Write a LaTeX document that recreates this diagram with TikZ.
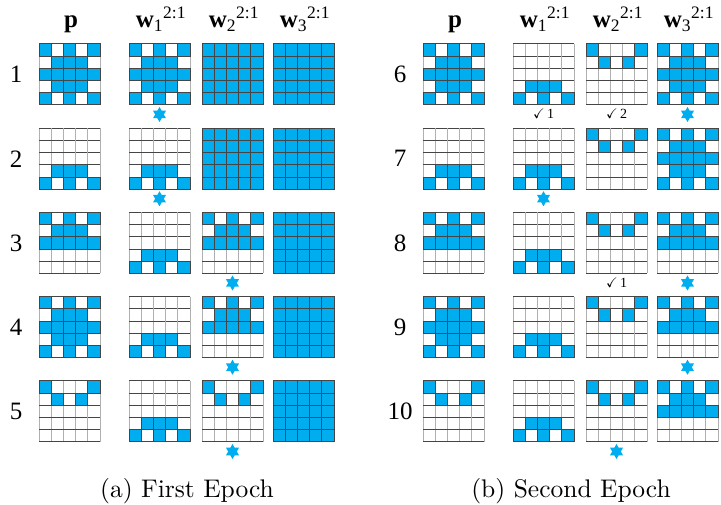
\documentclass[tikz,border=0pt]{standalone}
\usepackage{amssymb}
\usepackage{fontspec}
\newfontfamily\timesf{Liberation Serif}
\newfontfamily\capf{lmroman10-regular}[Extension=.otf]
\usetikzlibrary{positioning,shapes.geometric}

\definecolor{cellblue}{HTML}{00AEEF}
\definecolor{darkline}{HTML}{454545}
\definecolor{lightline}{HTML}{B0B0B0}

\def\cw{12.2pt}
% filled cells as col/row, counted from the top left corner
\def\patA{0/0,2/0,4/0,1/1,2/1,3/1,0/2,1/2,2/2,3/2,4/2,1/3,2/3,3/3,0/4,2/4,4/4}
\def\patB{1/3,2/3,3/3,0/4,2/4,4/4}
\def\patC{0/0,2/0,4/0,1/1,2/1,3/1,0/2,1/2,2/2,3/2,4/2}
\def\patD{0/0,4/0,1/1,3/1}
\def\patF{0/0,1/0,2/0,3/0,4/0,0/1,1/1,2/1,3/1,4/1,0/2,1/2,2/2,3/2,4/2,0/3,1/3,2/3,3/3,4/3,0/4,1/4,2/4,3/4,4/4}

\newcommand{\cellgrid}[2]{%
  \foreach \k in {0,...,5}{
    \draw[vline] ([xshift=\k*\cw]#1.north west) -- ([xshift=\k*\cw]#1.south west);
    \draw[hline] ([yshift=-\k*\cw]#1.north west) -- ([yshift=-\k*\cw]#1.north east);
  }
  \edef\curcells{\csname pat#2\endcsname}%
  \foreach \cc/\rr in \curcells{
    \draw[bluecell] ([xshift=\cc*\cw, yshift=-\rr*\cw]#1.north west) rectangle ++(\cw,-\cw);
  }
}

\begin{document}
\begin{tikzpicture}[
          x=1pt, y=1pt,
          gridbox/.style={minimum width=61pt, minimum height=61pt, inner sep=0pt, outer sep=0pt},
          vline/.style={lightline, line width=1pt},
          hline/.style={darkline, line width=1pt},
          bluecell/.style={fill=cellblue, draw=darkline, line width=1pt},
          rownum/.style={font={\timesf\fontsize{25}{30}\selectfont}},
          head/.style={anchor=base, font={\timesf\fontsize{25}{30}\selectfont}},
          hexstar/.style={star, star points=6, star point ratio=1.732, fill=cellblue, minimum size=15pt, inner sep=0pt, outer sep=0pt},
          chk/.style={inner sep=0pt, font={\timesf\fontsize{14}{16}\selectfont}},
          captext/.style={anchor=base, font={\capf\fontsize{25.5}{30}\selectfont}}
      ]
        \useasboundingbox (0,0) rectangle (721,504);
        % column heads
        \foreach \ox/\s in {0/a,384/b}{
          \node[head] (hp-\s) at (\ox+71,476) {\textbf{p}};
          \node[head] (hw1-\s) at (\ox+161,476) {\textbf{w}\textsubscript{1}\textsuperscript{2:1}};
          \node[head] (hw2-\s) at (\ox+234,476) {\textbf{w}\textsubscript{2}\textsuperscript{2:1}};
          \node[head] (hw3-\s) at (\ox+305,476) {\textbf{w}\textsubscript{3}\textsuperscript{2:1}};
        }
        % rows: number / p / w1 / w2 / w3 / x offset / row index
        \foreach \n/\pa/\pb/\pc/\pd/\ox/\i in {1/A/A/F/F/0/0, 2/B/B/F/F/0/1, 3/C/B/C/F/0/2, 4/A/B/C/F/0/3, 5/D/B/D/F/0/4,
            6/A/B/D/A/384/0, 7/B/B/D/A/384/1, 8/C/B/D/C/384/2, 9/A/B/D/C/384/3, 10/D/B/D/C/384/4}{
          \node[rownum] (num\n) at (\ox+16,429.5-84.25*\i) {\n};
          \node[gridbox] (g\n-0) at (\ox+69.5,429.5-84.25*\i) {};
          \node[gridbox] (g\n-1) at (\ox+159.5,429.5-84.25*\i) {};
          \node[gridbox] (g\n-2) at (\ox+232.5,429.5-84.25*\i) {};
          \node[gridbox] (g\n-3) at (\ox+303.5,429.5-84.25*\i) {};
          \cellgrid{g\n-0}{\pa}
          \cellgrid{g\n-1}{\pb}
          \cellgrid{g\n-2}{\pc}
          \cellgrid{g\n-3}{\pd}
        }
        % winners
        \foreach \g in {1-1,2-1,3-2,4-2,5-2,6-3,7-1,8-3,9-3,10-2}
          \node[hexstar, below=2pt of g\g] (st\g) {};
        \node[chk, below=4pt of g6-1] (ck6-1) {$\checkmark$\,1};
        \node[chk, below=4pt of g6-2] (ck6-2) {$\checkmark$\,2};
        \node[chk, below=4pt of g8-2] (ck8-2) {$\checkmark$\,1};
        \node[captext] (cap-a) at (187,7) {(a) First Epoch};
        \node[captext] (cap-b) at (571,7) {(b) Second Epoch};
      \end{tikzpicture}
\end{document}
